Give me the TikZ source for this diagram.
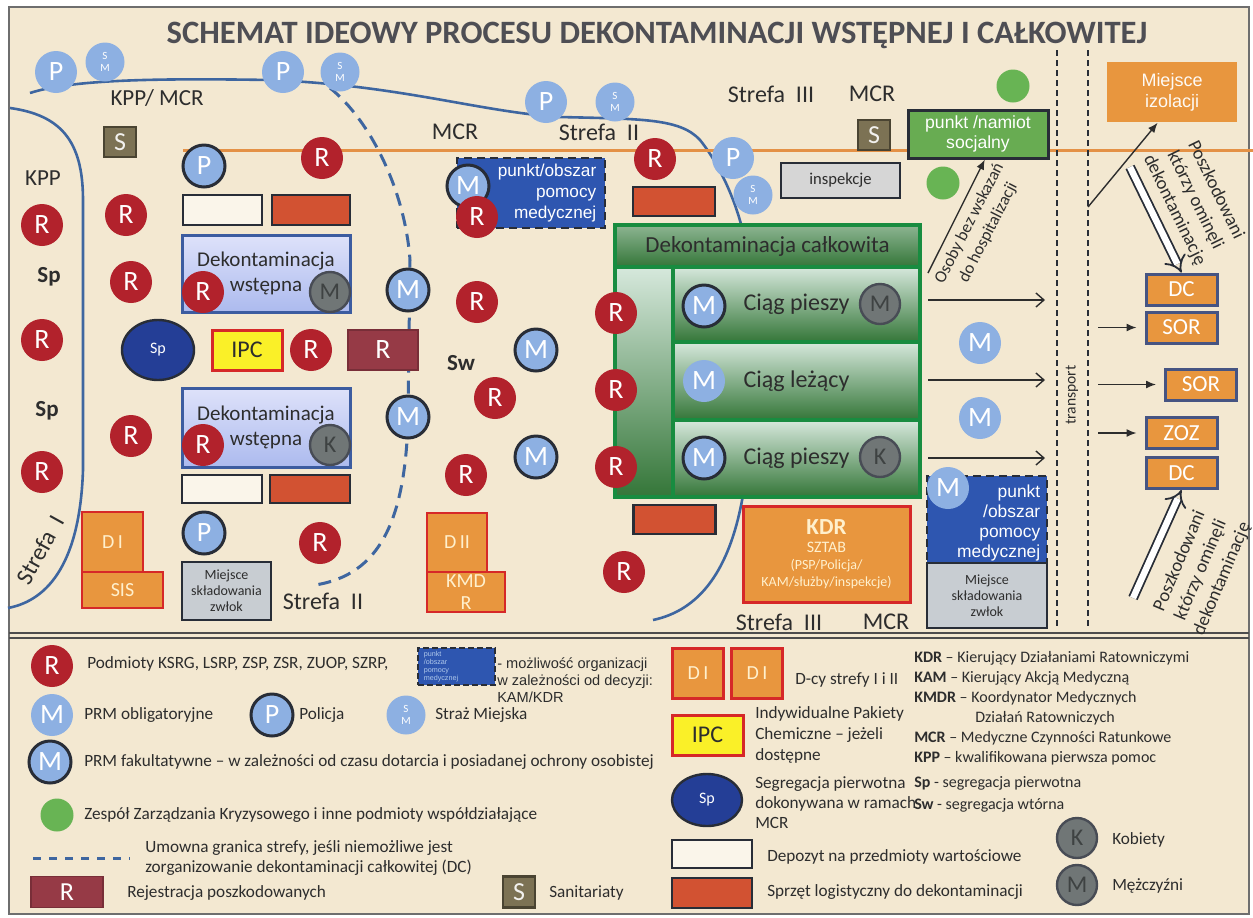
\documentclass[tikz,border=0pt]{standalone}
\usepackage{fontspec}
\setmainfont{Carlito}
\newfontfamily\arialfont{Liberation Sans}
\usetikzlibrary{arrows.meta,shapes.geometric}

\newcommand{\fsz}[2]{\fontsize{#1}{#2}\selectfont}

\definecolor{cBack}{RGB}{243,232,209}
\definecolor{cFrame}{RGB}{110,110,110}
\definecolor{cText}{RGB}{45,45,45}
\definecolor{cTitle}{RGB}{78,78,84}
\definecolor{cRed}{RGB}{178,34,44}
\definecolor{cBlue}{RGB}{141,176,226}
\definecolor{cDark}{RGB}{40,45,55}
\definecolor{cGray}{RGB}{112,118,118}
\definecolor{cGrayText}{RGB}{62,66,66}
\definecolor{cGreen}{RGB}{104,180,84}
\definecolor{cZone}{RGB}{62,102,160}
\definecolor{cOrangeLine}{RGB}{228,145,70}
\definecolor{cOrange}{RGB}{232,150,62}
\definecolor{cBoxRed}{RGB}{214,40,40}
\definecolor{cBoxBlue}{RGB}{70,84,130}
\definecolor{cNavy}{RGB}{46,86,176}
\definecolor{cOlive}{RGB}{124,114,84}
\definecolor{cRej}{RGB}{150,58,70}
\definecolor{cYellow}{RGB}{250,240,40}
\definecolor{cSp}{RGB}{36,62,150}
\definecolor{cLight}{RGB}{214,214,214}
\definecolor{cCorpse}{RGB}{200,205,210}
\definecolor{cLogi}{RGB}{210,82,50}
\definecolor{cSocial}{RGB}{104,172,82}
\definecolor{cLaneTop}{RGB}{214,232,220}
\definecolor{cLaneBot}{RGB}{52,118,56}
\definecolor{cGreenLine}{RGB}{24,140,64}
\definecolor{cDekTop}{RGB}{222,226,250}
\definecolor{cDekBot}{RGB}{172,186,238}
\definecolor{cDekLine}{RGB}{60,92,160}
\definecolor{cPale}{RGB}{255,240,205}

\tikzset{every picture/.style={line width=0.75pt},
  rdot/.style={circle, fill=cRed, text=white, minimum size=21pt, inner sep=0pt, font=\fsz{14}{14}},
  mdot/.style={circle, fill=cBlue, text=white, minimum size=21pt, inner sep=0pt, font=\fsz{14}{14}},
  mring/.style={mdot, draw=cDark, line width=1.5pt},
  smdot/.style={circle, fill=cBlue, text=white, minimum size=19.5pt, inner sep=0pt, align=center, font=\fsz{5.5}{6}},
  gdot/.style={circle, fill=cGray, draw=cDark!85, line width=1.2pt, text=cGrayText, minimum size=20pt, inner sep=0pt, font=\fsz{12}{12}},
  zdot/.style={circle, fill=cGreen, minimum size=16.5pt, inner sep=0pt},
  lbl/.style={text=cText, inner sep=0.75pt, font=\fsz{12}{12}},
  leg/.style={text=cText, inner sep=0.75pt, anchor=west, align=left, font=\fsz{8.6}{10}},
  orbox/.style={draw=cBoxRed, line width=1.3pt, fill=cOrange, inner sep=0pt, text=cPale, font=\fsz{10}{11}},
  rbox/.style={draw=cBoxBlue, line width=1.5pt, fill=cOrange, inner sep=0pt, text=white, minimum width=35.5pt, minimum height=15.5pt, font=\fsz{11.5}{11.5}},
  lane/.style={draw=cGreenLine, line width=1.8pt, top color=cLaneTop, bottom color=cLaneBot, inner sep=0pt, text=cText, font=\fsz{12}{12}},
  dekbox/.style={draw=cDekLine, line width=1.5pt, top color=cDekTop, bottom color=cDekBot, minimum width=84pt, align=center, text=cText, font=\fsz{10.5}{12.5}},
  plainbox/.style={draw=cDark, line width=1.2pt, inner sep=0pt},
  thinarrow/.style={cText, line width=0.7pt, -{Straight Barb[length=4pt,width=7pt]}},
  fillarrow/.style={cText, line width=0.7pt, -{Latex[length=5pt,width=4pt]}},
  hollowarrow/.style={draw=cDark, double=white, double distance=3.2pt, line width=0.9pt, -{Implies}},
}

\begin{document}
\begin{tikzpicture}[x=0.5pt,y=0.5pt,yscale=-1,xscale=1]
\useasboundingbox (0,0) rectangle (1253,917);

%Shape: Rectangle (sheet)
\fill[cBack] (9,7) rectangle (1249,914);
\draw[cFrame, line width=1pt] (9,7) rectangle (1249,914);
%Straight Lines (legend separator)
\draw[cFrame!70!black, line width=0.9pt] (9,633) -- (1249,633);
\draw[cFrame!70!black, line width=0.9pt] (9,638) -- (1249,638);

% Text Node
\node[font=\fsz{16.3}{16.3}\bfseries, text=cTitle] (title) at (657,35) {SCHEMAT IDEOWY PROCESU DEKONTAMINACJI WSTĘPNEJ I CAŁKOWITEJ};

%Curve Lines (zone borders)
\draw[cZone, line width=1.3pt] (30,93) .. controls (70,80) and (150,78) .. (270,80) .. controls (400,85) and (480,112) .. (560,117) .. controls (640,119) and (680,118) .. (700,140) .. controls (720,165) and (735,200) .. (742,228);
\draw[cZone, line width=1.3pt] (743,495) .. controls (730,570) and (700,610) .. (653,620);
\draw[cZone, line width=1.3pt] (10,108) .. controls (60,115) and (83,140) .. (83,200) -- (83,470) .. controls (80,560) and (50,600) .. (8,608);
\draw[cZone, line width=1.5pt, dash pattern=on 6.5pt off 4pt] (330,88) .. controls (370,120) and (405,190) .. (410,260) -- (408,420) .. controls (405,520) and (380,575) .. (315,585);
%Straight Lines
\draw[cOrangeLine, line width=1.5pt] (183,150) -- (1253,150);
\draw[cDark, line width=0.6pt, dash pattern=on 3pt off 2pt] (1057,50) -- (1057,628);
\draw[cDark, line width=0.6pt, dash pattern=on 3pt off 2pt] (1088,50) -- (1088,628);

%Shapes: boxes of Strefa I / II
\node[dekbox, minimum height=38.5pt] (dekw1) at (266,273.5) {Dekontaminacja\\wstępna};
\node[dekbox, minimum height=39.5pt] (dekw2) at (266,427.5) {Dekontaminacja\\wstępna};
\node[plainbox, fill=cBack!45!white, minimum width=39.5pt, minimum height=15pt] (dep1) at (222.5,210) {};
\node[plainbox, fill=cLogi, minimum width=39pt, minimum height=15pt] (logi1) at (311,210) {};
\node[plainbox, fill=cBack!45!white, minimum width=40pt, minimum height=14pt] (dep2) at (222,489) {};
\node[plainbox, fill=cLogi, minimum width=40pt, minimum height=14pt] (logi2) at (310,489) {};
\node[draw=cBoxRed, line width=1.5pt, fill=cYellow, minimum width=35pt, minimum height=20pt, inner sep=0pt, text=cText, font=\fsz{12}{12}] (ipc) at (247,350) {IPC};
\node[draw=cRej!80!black, fill=cRej, minimum width=35pt, minimum height=20pt, inner sep=0pt, text=white, font=\fsz{14}{14}] (rej) at (383,350) {R};
\node[ellipse, draw=cDark, line width=1.2pt, fill=cSp, minimum width=36pt, minimum height=30pt, inner sep=0pt, text=white, font=\fsz{8}{8}] (sp) at (158,350) {Sp};
\node[draw=cOlive!60!black, line width=1.2pt, fill=cOlive, minimum width=16pt, minimum height=15pt, inner sep=0pt, text=white!90!cOlive, font=\fsz{13}{13}] (san1) at (120,142) {S};
\node[draw=cOlive!60!black, line width=1.2pt, fill=cOlive, minimum width=16pt, minimum height=15pt, inner sep=0pt, text=white!90!cOlive, font=\fsz{13}{13}] (san2) at (874,135) {S};
\node[orbox, minimum width=30.5pt, minimum height=30pt] (d1) at (112.5,542) {D\,I};
\node[orbox, minimum width=40.5pt, minimum height=18pt] (sis) at (122.5,590) {SIS};
\node[plainbox, line width=1.3pt, fill=cCorpse, minimum width=44.5pt, minimum height=29pt, align=center, text=cText, font=\fsz{7}{8}] (zwl1) at (226.5,591) {Miejsce\\składowania\\zwłok};
\node[orbox, minimum width=30pt, minimum height=29.5pt] (d2) at (457,542.5) {D\,II};
\node[orbox, minimum width=39pt, minimum height=20pt, align=center] (kmdr) at (466,592) {KMD\\R};
\node[plainbox, line width=1.3pt, dash pattern=on 4pt off 2.5pt, fill=cNavy, minimum width=74pt, minimum height=35pt] (pom1) at (531,193) {};
\node[anchor=east, align=right, inner sep=0pt, text=white, font=\arialfont\fsz{8.6}{10.3}] (pom1txt) at (597,193) {punkt/obszar\\pomocy\\medycznej};
\node[plainbox, fill=cLogi, minimum width=41pt, minimum height=14.5pt] (logi3) at (674,201.5) {};
\node[plainbox, fill=cLogi, minimum width=41pt, minimum height=14.5pt] (logi4) at (674.5,519.5) {};

%Shapes: Strefa III
\node[plainbox, line width=1.3pt, fill=cLight, minimum width=59.5pt, minimum height=17.5pt, text=cText, font=\fsz{8.3}{8.3}] (insp) at (840.5,180.5) {inspekcje};
\node[plainbox, line width=1.5pt, fill=cSocial, minimum width=70pt, minimum height=24pt, align=center, text=white, font=\arialfont\fsz{8.8}{10}] (socj) at (978,134) {punkt /namiot\\socjalny};
\node[fill=cOrange, minimum width=65pt, minimum height=30pt, align=center, text=white!95!cOrange, font=\arialfont\fsz{9}{10.5}] (izol) at (1172,92) {Miejsce\\izolacji};
\node[lane, top color=cLaneTop!55!cLaneBot, minimum width=152.5pt, minimum height=21pt, font=\fsz{11.5}{11.5}] (dcal) at (767.5,246) {Dekontaminacja całkowita};
\node[lane, minimum width=29pt, minimum height=115pt] (dccol) at (644,382) {};
\node[lane, minimum width=123.5pt, minimum height=37.5pt] (lane1) at (796.5,304.5) {Ciąg pieszy};
\node[lane, minimum width=123.5pt, minimum height=39pt] (lane2) at (796.5,381) {Ciąg leżący};
\node[lane, minimum width=123.5pt, minimum height=38.5pt] (lane3) at (796.5,458.5) {Ciąg pieszy};
\node[orbox, line width=1.5pt, minimum width=83.5pt, minimum height=48pt, align=center, font=\fsz{7}{8.3}] (kdr) at (826.5,554) {{\fsz{11.5}{12}\bfseries KDR}\\[1pt]{\fsz{8}{9}SZTAB}\\(PSP/Policja/\\KAM/służby/inspekcje)};
\node[plainbox, line width=1.3pt, dash pattern=on 4pt off 2.5pt, fill=cNavy, minimum width=60pt, minimum height=43.5pt] (pom2) at (987,519.5) {};
\node[anchor=east, align=right, inner sep=0pt, text=white, font=\arialfont\fsz{8.7}{10}] (pom2txt) at (1041,523) {punkt\\/obszar\\pomocy\\medycznej};
\node[plainbox, line width=1.3pt, fill=cCorpse, minimum width=60pt, minimum height=32.5pt, align=center, text=cText, font=\fsz{7}{8}] (zwl2) at (987,595.5) {Miejsce\\składowania\\zwłok};
\node[rbox] (dc1) at (1181.5,289.5) {DC};
\node[rbox] (sor1) at (1181.5,327.5) {SOR};
\node[rbox] (sor2) at (1201,384.5) {SOR};
\node[rbox] (zoz) at (1181.5,433) {ZOZ};
\node[rbox] (dc2) at (1181.5,473) {DC};

%Shapes: Circles
\node[mdot] (p1) at (56,72) {P};
\node[smdot] (sm1) at (105,62) {S\\M};
\node[mdot] (p2) at (283,72) {P};
\node[smdot] (sm2) at (340,72) {S\\M};
\node[mdot] (p3) at (546,102) {P};
\node[smdot] (sm3) at (615,102) {S\\M};
\node[mdot] (p4) at (733,158) {P};
\node[smdot] (sm4) at (753,195) {S\\M};
\node[mring] (p5) at (204,166) {P};
\node[mring] (p6) at (204,533) {P};
\node[mring] (m1) at (408,290) {M};
\node[mring] (m2) at (408,417) {M};
\node[mring] (m3) at (536,350) {M};
\node[mring] (m4) at (536,457) {M};
\node[mring] (m5) at (468,186) {M};
\node[mring] (m6) at (704,306) {M};
\node[mdot] (m7) at (704,381) {M};
\node[mring] (m8) at (704,458) {M};
\node[mdot] (m9) at (980,343) {M};
\node[mdot] (m10) at (980,418) {M};
\node[mdot] (m11) at (948,488) {M};
\node[gdot] (g1) at (330,292) {M};
\node[gdot] (g2) at (330,445) {K};
\node[gdot] (g3) at (880,304) {M};
\node[gdot] (g4) at (880,457) {K};
\node[zdot] (z1) at (1013,86) {};
\node[zdot] (z2) at (943,183) {};
\node[rdot] (r1) at (42,225) {R};
\node[rdot] (r2) at (42,340) {R};
\node[rdot] (r3) at (42,472) {R};
\node[rdot] (r4) at (126,215) {R};
\node[rdot] (r5) at (131,282) {R};
\node[rdot] (r6) at (131,436) {R};
\node[rdot] (r7) at (322,158) {R};
\node[rdot] (r8) at (203,292) {R};
\node[rdot] (r9) at (203,445) {R};
\node[rdot] (r10) at (311,350) {R};
\node[rdot] (r11) at (320,543) {R};
\node[rdot] (r12) at (477,217) {R};
\node[rdot] (r13) at (655,159) {R};
\node[rdot] (r14) at (477,302) {R};
\node[rdot] (r15) at (616,313) {R};
\node[rdot] (r16) at (495,398) {R};
\node[rdot] (r17) at (616,390) {R};
\node[rdot] (r18) at (466,475) {R};
\node[rdot] (r19) at (616,467) {R};
\node[rdot] (r20) at (624,572) {R};

% Text Node
\node[lbl, font=\fsz{11.5}{11.5}] (kppmcr) at (157,98) {KPP/ MCR};
\node[lbl, font=\fsz{11.5}{11.5}] (kpp) at (43,178) {KPP};
\node[lbl, font=\fsz{11.5}{11.5}\bfseries] (sp1) at (49,277) {Sp};
\node[lbl, font=\fsz{11.5}{11.5}\bfseries] (sp2) at (47,411) {Sp};
\node[lbl, rotate=61] (strefa1) at (40,550) {Strefa\ \ I};
\node[lbl] (mcr1) at (455,132) {MCR};
\node[lbl] (strefa2a) at (599,132) {Strefa\ \ II};
\node[lbl] (strefa3a) at (771,94) {Strefa\ \ III};
\node[lbl] (mcr2) at (872,94) {MCR};
\node[lbl, font=\fsz{11.5}{11.5}\bfseries] (sw) at (461,363) {Sw};
\node[lbl] (strefa2b) at (323,601) {Strefa\ \ II};
\node[lbl] (strefa3b) at (779,622) {Strefa\ \ III};
\node[lbl] (mcr3) at (886,622) {MCR};
\node[lbl, rotate=90, font=\fsz{7.8}{7.8}] (transp) at (1072,395) {transport};

%Arrows
\coordinate (osA) at (928,273);
\draw[fillarrow] (osA) -- (socj.-75);
\node[lbl, rotate=63, align=center, font=\fsz{8.5}{10.5}] (osoby) at (979,228) {Osoby bez wskazań\\do hospitalizacji};
\coordinate (izA) at (1088,207);
\draw[fillarrow] (izA) -- (izol.-115);
\coordinate (omA) at (1130,167);
\draw[hollowarrow] (omA) -- (dc1.north);
\node[lbl, rotate=-64, align=center, font=\fsz{9.3}{11.5}] (omtop) at (1195,200) {Poszkodowani\\którzy ominęli\\dekontaminację};
\coordinate (omB) at (1133,598);
\draw[hollowarrow] (omB) -- (dc2.south);
\node[lbl, rotate=67, align=center, font=\fsz{9.3}{11.5}] (ombot) at (1201,570) {Poszkodowani\\którzy ominęli\\dekontaminację};
\coordinate (t1a) at (928,300);
\coordinate (t1b) at (1045,300);
\coordinate (t2a) at (928,380);
\coordinate (t2b) at (1045,380);
\coordinate (t3a) at (928,458);
\coordinate (t3b) at (1045,458);
\draw[thinarrow] (t1a) -- (t1b);
\draw[thinarrow] (t2a) -- (t2b);
\draw[thinarrow] (t3a) -- (t3b);
\coordinate (h1) at (1098,327.5);
\coordinate (h2) at (1098,384.5);
\coordinate (h3) at (1098,433);
\draw[fillarrow, shorten >=4pt] (h1) -- (sor1.west);
\draw[fillarrow, shorten >=4pt] (h2) -- (sor2.west);
\draw[fillarrow, shorten >=4pt] (h3) -- (zoz.west);

%Legend: symbols
\node[rdot] (rL) at (52,666) {R};
\node[leg] (rLtxt) at (85,664) {Podmioty KSRG, LSRP, ZSP, ZSR, ZUOP, SZRP,};
\node[plainbox, line width=1pt, dash pattern=on 3pt off 1.5pt, fill=cNavy, minimum width=38.5pt, minimum height=18.5pt] (pomL) at (456.5,666.5) {};
\node[anchor=west, align=left, inner sep=0pt, text=cBlue!70!white, font=\arialfont\fsz{3.6}{4}] (pomLin) at (423,666.5) {punkt\\/obszar\\pomocy\\medycznej};
\node[leg, font=\arialfont\fsz{7.3}{8.5}] (pomLtxt) at (495,680) {- możliwość organizacji\\w zależności od decyzji:\\KAM/KDR};
\node[mdot] (mL1) at (52,715) {M};
\node[leg] (mL1txt) at (82,715) {PRM obligatoryjne};
\node[mring] (pL) at (272,715) {P};
\node[leg] (pLtxt) at (297,715) {Policja};
\node[smdot] (smL) at (406,715) {S\\M};
\node[leg] (smLtxt) at (433,715) {Straż Miejska};
\node[mring] (mL2) at (50,762) {M};
\node[leg] (mL2txt) at (82,762) {PRM fakultatywne – w zależności od czasu dotarcia i posiadanej ochrony osobistej};
\node[zdot] (zL) at (57,815) {};
\node[leg] (zLtxt) at (82,815) {Zespół Zarządzania Kryzysowego i inne podmioty współdziałające};
\coordinate (dashA) at (33,858);
\coordinate (dashB) at (130,858);
\draw[cZone, line width=1.5pt, dash pattern=on 4pt off 4pt] (dashA) -- (dashB);
\node[leg] (dashtxt) at (143,858) {Umowna granica strefy, jeśli niemożliwe jest\\zorganizowanie dekontaminacji całkowitej (DC)};
\node[draw=cRej!80!black, fill=cRej, minimum width=36pt, minimum height=15.5pt, inner sep=0pt, text=white, font=\fsz{13}{13}] (rejL) at (67,892) {R};
\node[leg] (rejLtxt) at (125,893) {Rejestracja poszkodowanych};
\node[draw=cOlive!60!black, line width=1.2pt, fill=cOlive, minimum width=16pt, minimum height=15.5pt, inner sep=0pt, text=white!90!cOlive, font=\fsz{13}{13}] (sanL) at (519,892) {S};
\node[leg] (sanLtxt) at (547,893) {Sanitariaty};
\node[orbox, line width=1.5pt, minimum width=25.5pt, minimum height=25pt] (d1L) at (698,673) {D\,I};
\node[orbox, line width=1.5pt, minimum width=25.5pt, minimum height=25pt] (d1L2) at (757,673) {D\,I};
\node[leg] (dLtxt) at (793,680) {D-cy strefy I i II};
\node[draw=cBoxRed, line width=1.5pt, fill=cYellow, minimum width=35.5pt, minimum height=20pt, inner sep=0pt, text=cText, font=\fsz{12}{12}] (ipcL) at (707.5,735) {IPC};
\node[leg, font=\fsz{8.6}{10.5}] (ipcLtxt) at (753,735) {Indywidualne Pakiety\\Chemiczne – jeżeli\\dostępne};
\node[ellipse, draw=cDark, line width=1.2pt, fill=cSp, minimum width=35pt, minimum height=26pt, inner sep=0pt, text=white, font=\fsz{8}{8}] (spL) at (707,800) {Sp};
\node[leg, font=\fsz{8.6}{10}] (spLtxt) at (753,803) {Segregacja pierwotna\\dokonywana w ramach\\MCR};
\node[plainbox, line width=1.3pt, fill=cBack!45!white, minimum width=40pt, minimum height=14pt] (depL) at (712,854) {};
\node[leg] (depLtxt) at (765,857) {Depozyt na przedmioty wartościowe};
\node[plainbox, line width=1.3pt, fill=cLogi, minimum width=40pt, minimum height=15pt] (logiL) at (712,893) {};
\node[leg] (logiLtxt) at (765,892) {Sprzęt logistyczny do dekontaminacji};
\node[leg, font=\fsz{8}{10}] (abbr) at (912,708) {\textbf{KDR} – Kierujący Działaniami Ratowniczymi\\\textbf{KAM} – Kierujący Akcją Medyczną\\\textbf{KMDR} – Koordynator Medycznych\\\hspace*{30.5pt}Działań Ratowniczych\\\textbf{MCR} – Medyczne Czynności Ratunkowe\\\textbf{KPP} – kwalifikowana pierwsza pomoc};
\node[leg, font=\fsz{8}{11}] (abbrsp) at (912,794) {\textbf{Sp} - segregacja pierwotna\\\textbf{Sw} - segregacja wtórna};
\node[gdot] (kL) at (1077,838) {K};
\node[leg] (kLtxt) at (1110,840) {Kobiety};
\node[gdot] (mL3) at (1077,885) {M};
\node[leg] (mL3txt) at (1110,886) {Mężczyźni};

\end{tikzpicture}
\end{document}
